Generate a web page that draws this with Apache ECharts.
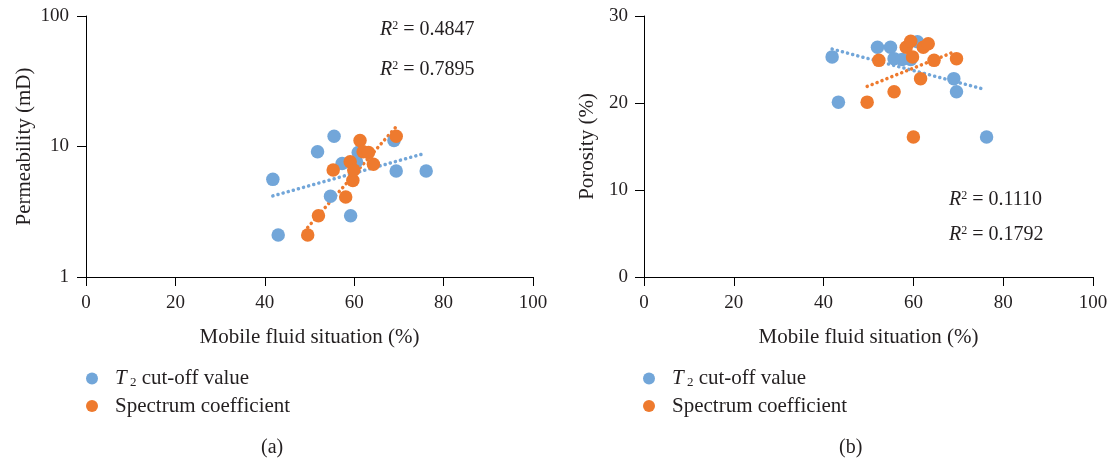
<!DOCTYPE html>
<html><head><meta charset="utf-8">
<script src="https://cdn.jsdelivr.net/npm/echarts@6/dist/echarts.min.js"></script>
<style>html,body{margin:0;padding:0;background:#fff}#c{width:1113px;height:462px}</style>
</head><body><div id="c"></div>
<script>
// Panel (a): permeability vs mobile fluid
const aBlueX = [41.8, 43.0, 55.5, 51.8, 57.3, 54.7, 59.2, 60.9, 60.5, 68.9, 69.4, 76.1];
const aBlueY = [5.6, 2.1, 12.0, 9.1, 7.4, 4.15, 2.95, 9.0, 7.65, 11.1, 6.5, 6.5];
const aOrangeX = [49.6, 52.0, 58.1, 55.3, 59.1, 59.7, 59.9, 61.3, 62.0, 63.2, 64.3, 69.4];
const aOrangeY = [2.1, 2.95, 4.1, 6.6, 7.65, 5.5, 6.6, 11.1, 9.1, 9.0, 7.3, 12.0];
const aBlueTrendX = [41.8, 76.0];
const aBlueTrendY = [4.18, 8.9];
const aOrangeTrendX = [49.6, 69.4];
const aOrangeTrendY = [2.4, 14.2];
// Panel (b): porosity vs mobile fluid
const bBlueX = [41.9, 43.3, 52.0, 54.9, 55.7, 57.5, 59.4, 60.9, 69.0, 69.6, 76.3];
const bBlueY = [25.3, 20.1, 26.4, 26.4, 25.1, 25.0, 25.0, 27.05, 22.8, 21.3, 16.1];
const bOrangeX = [49.7, 52.3, 55.7, 58.4, 59.4, 59.8, 60.0, 61.6, 62.2, 63.3, 64.6, 69.6];
const bOrangeY = [20.1, 24.9, 21.3, 26.4, 27.1, 25.3, 16.1, 22.8, 26.4, 26.8, 24.9, 25.1];
const bBlueTrendX = [41.9, 75.6];
const bBlueTrendY = [26.2, 21.6];
const bOrangeTrendX = [49.7, 68.7];
const bOrangeTrendY = [21.9, 25.8];
const xTicks = [0, 20, 40, 60, 80, 100];
const r2a = ['0.4847', '0.7895'];
const r2b = ['0.1110', '0.1792'];

const BLUE = '#72a6d9', ORANGE = '#ee7a2e';
const FONT = 'Liberation Serif';
const TXT = '#231f20';
const zip = (xs, ys) => xs.map((x, i) => [x, ys[i]]);

const chart = echarts.init(document.getElementById('c'));
const axisCommon = {
  axisLine: { show: true, lineStyle: { color: '#000', width: 1 } },
  axisTick: { show: true, inside: false, length: 9, lineStyle: { color: '#000' } },
  splitLine: { show: false },
  axisLabel: { color: TXT, fontFamily: FONT, fontSize: 19 },
  nameTextStyle: { color: TXT, fontFamily: FONT, fontSize: 21 }
};
const xAxis = (gi) => Object.assign({}, axisCommon, {
  type: 'value', gridIndex: gi, min: 0, max: 100, interval: 20,
  name: 'Mobile fluid situation (%)', nameLocation: 'middle', nameGap: 50,
  axisLabel: Object.assign({}, axisCommon.axisLabel, { margin: 17 })
});
const scatter = (name, gi, data, color) => ({
  name, type: 'scatter', xAxisIndex: gi, yAxisIndex: gi, data,
  symbolSize: 13.5, itemStyle: { color, opacity: 1 }
});
const trend = (gi, data, color) => ({
  type: 'line', xAxisIndex: gi, yAxisIndex: gi, data, symbol: 'none', silent: true,
  lineStyle: { color, width: 3.5, type: [0.1, 5.2], cap: 'round' }, z: 1
});
const legendCommon = {
  orient: 'vertical', icon: 'circle', itemWidth: 12, itemHeight: 12, itemGap: 6,
  data: ['T2 cut-off value', 'Spectrum coefficient'],
  formatter: (n) => n === 'T2 cut-off value' ? '{i|T}{s| 2} cut-off value' : n,
  textStyle: {
    color: TXT, fontFamily: FONT, fontSize: 21, padding: [0, 0, 0, 12],
    rich: {
      i: { fontStyle: 'italic', fontFamily: FONT, fontSize: 21, color: TXT },
      s: { fontFamily: FONT, fontSize: 13, color: TXT, verticalAlign: 'bottom', padding: [9, 0, 0, 0] }
    }
  },
  selectedMode: false
};
const r2text = (left, top, val) => ({
  type: 'text', left, top,
  style: {
    text: '{i|R}{s|2} = ' + val,
    font: '20px ' + FONT, fill: TXT,
    rich: {
      i: { fontStyle: 'italic', fontFamily: FONT, fontSize: 20, fill: TXT },
      s: { fontFamily: FONT, fontSize: 12, fill: TXT, verticalAlign: 'top', padding: [0, 0, 8, 0] }
    }
  }
});

chart.setOption({
  backgroundColor: '#fff',
  animation: false,
  grid: [
    { left: 86, top: 16, width: 447, height: 261 },
    { left: 644, top: 16, width: 449, height: 261 }
  ],
  xAxis: [xAxis(0), xAxis(1)],
  yAxis: [
    Object.assign({}, axisCommon, {
      type: 'log', logBase: 10, gridIndex: 0, min: 1, max: 100,
      name: 'Permeability (mD)', nameLocation: 'middle', nameGap: 51,
      axisLabel: Object.assign({}, axisCommon.axisLabel, { margin: 17 })
    }),
    Object.assign({}, axisCommon, {
      type: 'value', gridIndex: 1, min: 0, max: 30, interval: 10,
      name: 'Porosity (%)', nameLocation: 'middle', nameGap: 46,
      axisLabel: Object.assign({}, axisCommon.axisLabel, { margin: 16 })
    })
  ],
  legend: [
    Object.assign({}, legendCommon, { left: 81, top: 363 }),
    Object.assign({}, legendCommon, { left: 638, top: 363 })
  ],
  graphic: [
    r2text(380, 20, r2a[0]), r2text(380, 60, r2a[1]),
    r2text(949, 190, r2b[0]), r2text(949, 225, r2b[1]),
    { type: 'text', left: 261, top: 438, style: { text: '(a)', font: '20px ' + FONT, fill: TXT } },
    { type: 'text', left: 839, top: 438, style: { text: '(b)', font: '20px ' + FONT, fill: TXT } }
  ],
  series: [
    trend(0, zip(aBlueTrendX, aBlueTrendY), BLUE),
    trend(0, zip(aOrangeTrendX, aOrangeTrendY), ORANGE),
    scatter('T2 cut-off value', 0, zip(aBlueX, aBlueY), BLUE),
    scatter('Spectrum coefficient', 0, zip(aOrangeX, aOrangeY), ORANGE),
    trend(1, zip(bBlueTrendX, bBlueTrendY), BLUE),
    trend(1, zip(bOrangeTrendX, bOrangeTrendY), ORANGE),
    scatter('T2 cut-off value', 1, zip(bBlueX, bBlueY), BLUE),
    scatter('Spectrum coefficient', 1, zip(bOrangeX, bOrangeY), ORANGE)
  ]
});
</script></body></html>
